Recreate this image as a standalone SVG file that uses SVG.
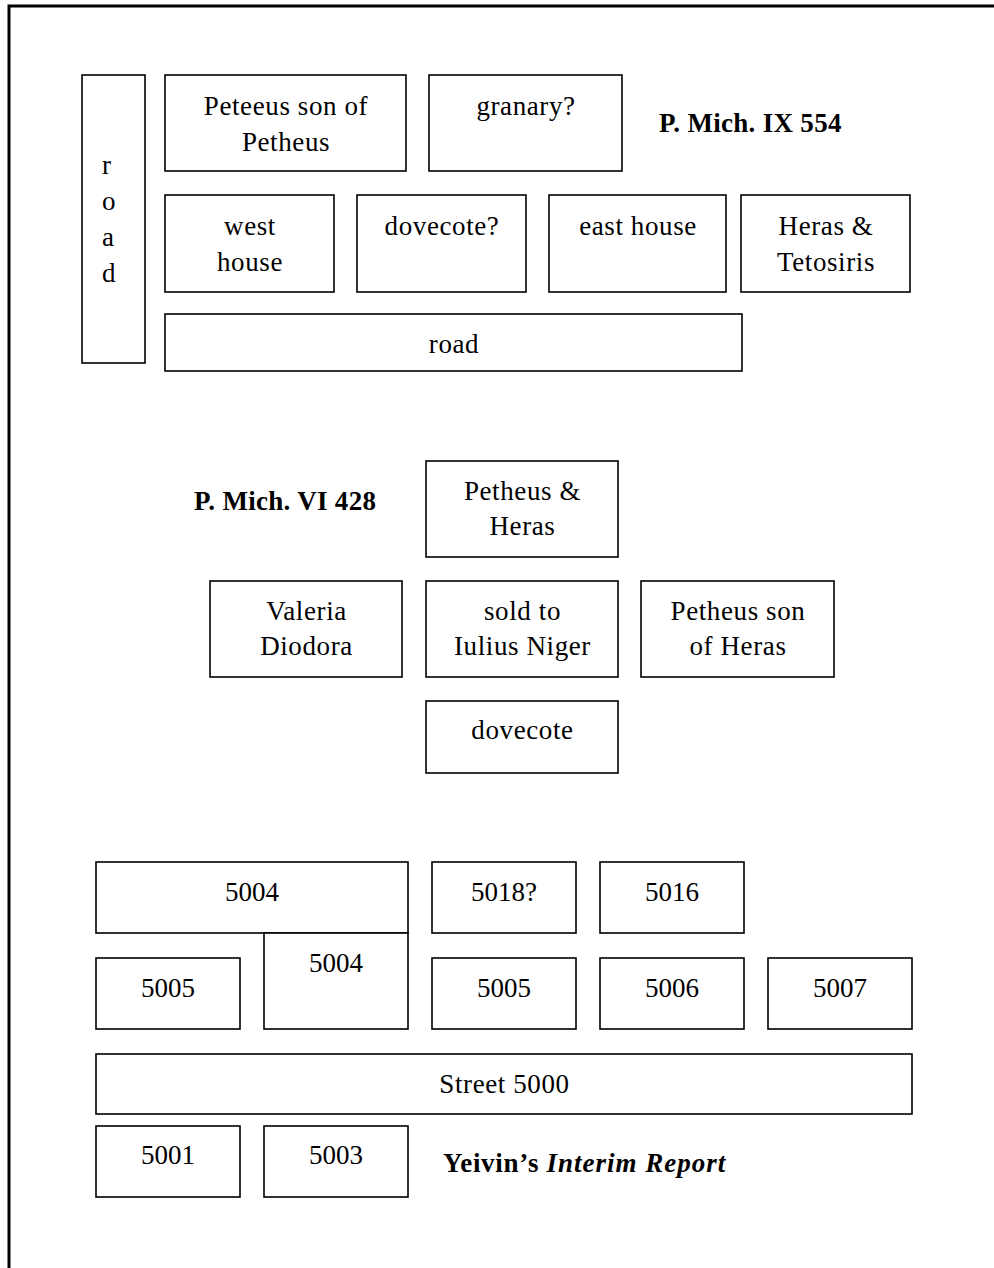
<svg xmlns="http://www.w3.org/2000/svg" width="994" height="1268" viewBox="0 0 994 1268">
<style>
.b{fill:#fff;stroke:#000;stroke-width:1.6}
.t{font-family:"Liberation Serif","Times New Roman",serif;font-size:27px;fill:#000;text-anchor:middle}
.w{letter-spacing:0.6px}
.l{font-family:"Liberation Serif","Times New Roman",serif;font-size:27px;fill:#000;font-weight:bold;letter-spacing:0.3px}
</style>
<rect x="0" y="0" width="994" height="1268" fill="#fff"/>
<rect x="9" y="6" width="1100" height="1400" fill="none" stroke="#000" stroke-width="3"/>
<g id="connectors"/>
<!-- P. Mich. IX 554 -->
<g id="road-vertical"><rect class="b" x="82" y="75" width="63" height="288"/>
<text class="t" style="text-anchor:start"><tspan x="102" y="174">r</tspan><tspan x="102" y="210">o</tspan><tspan x="102" y="246">a</tspan><tspan x="102" y="282">d</tspan></text></g>
<g id="peteeus"><rect class="b" x="165" y="75" width="241" height="96"/>
<text class="t w"><tspan x="286" y="115">Peteeus son of</tspan><tspan x="286" y="151">Petheus</tspan></text></g>
<g id="granary"><rect class="b" x="429" y="75" width="193" height="96"/>
<text class="t w" x="526" y="115">granary?</text></g>
<text id="label-ix554" class="l" x="659" y="132">P. Mich. IX 554</text>
<g id="west-house"><rect class="b" x="165" y="195" width="169" height="97"/>
<text class="t w"><tspan x="250" y="235">west</tspan><tspan x="250" y="271">house</tspan></text></g>
<g id="dovecote-q"><rect class="b" x="357" y="195" width="169" height="97"/>
<text class="t w" x="442" y="235">dovecote?</text></g>
<g id="east-house"><rect class="b" x="549" y="195" width="177" height="97"/>
<text class="t w" x="638" y="235">east house</text></g>
<g id="heras-tetosiris"><rect class="b" x="741" y="195" width="169" height="97"/>
<text class="t w"><tspan x="826" y="235">Heras &amp;</tspan><tspan x="826" y="271">Tetosiris</tspan></text></g>
<g id="road-horizontal"><rect class="b" x="165" y="314" width="577" height="57"/>
<text class="t w" x="454" y="353">road</text></g>
<!-- P. Mich. VI 428 -->
<text id="label-vi428" class="l" x="194" y="510">P. Mich. VI 428</text>
<g id="petheus-heras"><rect class="b" x="426" y="461" width="192" height="96"/>
<text class="t w"><tspan x="522.5" y="500">Petheus &amp;</tspan><tspan x="522.5" y="535">Heras</tspan></text></g>
<g id="valeria"><rect class="b" x="210" y="581" width="192" height="96"/>
<text class="t w"><tspan x="306.5" y="620">Valeria</tspan><tspan x="306.5" y="655">Diodora</tspan></text></g>
<g id="sold"><rect class="b" x="426" y="581" width="192" height="96"/>
<text class="t w"><tspan x="522.5" y="620">sold to</tspan><tspan x="522.5" y="655">Iulius Niger</tspan></text></g>
<g id="petheus-son"><rect class="b" x="641" y="581" width="193" height="96"/>
<text class="t w"><tspan x="738" y="620">Petheus son</tspan><tspan x="738" y="655">of Heras</tspan></text></g>
<g id="dovecote"><rect class="b" x="426" y="701" width="192" height="72"/>
<text class="t w" x="522.5" y="739">dovecote</text></g>
<!-- Yeivin -->
<g id="r5004a"><rect class="b" x="96" y="862" width="312" height="71"/>
<text class="t" x="252" y="901">5004</text></g>
<g id="r5018"><rect class="b" x="432" y="862" width="144" height="71"/>
<text class="t" x="504" y="901">5018?</text></g>
<g id="r5016"><rect class="b" x="600" y="862" width="144" height="71"/>
<text class="t" x="672" y="901">5016</text></g>
<g id="r5005a"><rect class="b" x="96" y="958" width="144" height="71"/>
<text class="t" x="168" y="997">5005</text></g>
<g id="r5004b"><rect class="b" x="264" y="933" width="144" height="96"/>
<text class="t" x="336" y="972">5004</text></g>
<g id="r5005b"><rect class="b" x="432" y="958" width="144" height="71"/>
<text class="t" x="504" y="997">5005</text></g>
<g id="r5006"><rect class="b" x="600" y="958" width="144" height="71"/>
<text class="t" x="672" y="997">5006</text></g>
<g id="r5007"><rect class="b" x="768" y="958" width="144" height="71"/>
<text class="t" x="840" y="997">5007</text></g>
<g id="street5000"><rect class="b" x="96" y="1054" width="816" height="60"/>
<text class="t w" x="504.5" y="1093">Street 5000</text></g>
<g id="r5001"><rect class="b" x="96" y="1126" width="144" height="71"/>
<text class="t" x="168" y="1164">5001</text></g>
<g id="r5003"><rect class="b" x="264" y="1126" width="144" height="71"/>
<text class="t" x="336" y="1164">5003</text></g>
<text id="label-yeivin" class="l" x="443" y="1172" style="letter-spacing:0.7px">Yeivin’s <tspan font-style="italic" style="letter-spacing:1px">Interim Report</tspan></text>
</svg>
